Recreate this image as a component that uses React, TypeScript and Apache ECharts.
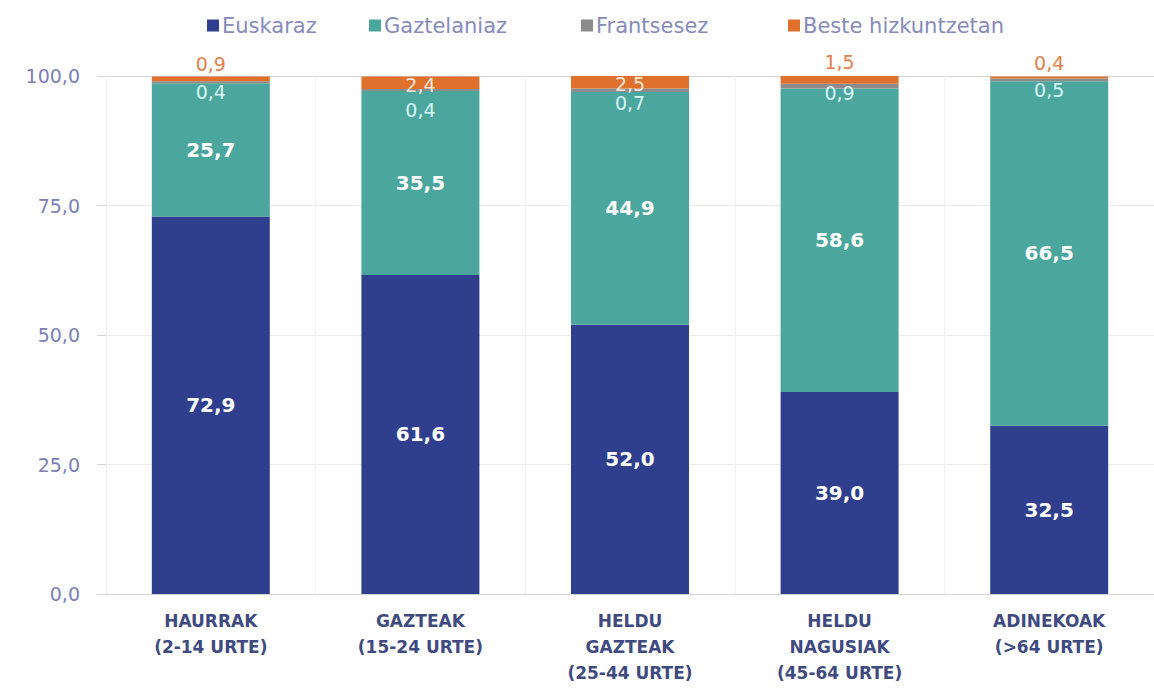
import React, { useEffect, useRef } from "react";
import * as echarts from "echarts";

const categories = [
  "HAURRAK\n(2-14 URTE)",
  "GAZTEAK\n(15-24 URTE)",
  "HELDU\nGAZTEAK\n(25-44 URTE)",
  "HELDU\nNAGUSIAK\n(45-64 URTE)",
  "ADINEKOAK\n(>64 URTE)",
];
const seriesNames = ["Euskaraz", "Gaztelaniaz", "Frantsesez", "Beste hizkuntzetan"];
const euskaraz = [72.9, 61.6, 52.0, 39.0, 32.5];
const gaztelaniaz = [25.7, 35.5, 44.9, 58.6, 66.5];
const frantsesez = [0.4, 0.4, 0.7, 0.9, 0.5];
const beste = [0.9, 2.4, 2.5, 1.5, 0.4];
const yTicks = [0, 25, 50, 75, 100];

// label placement (offset from segment top, px) — styling only
const frOffsets = [11, 21, 15, 9, 11];
const besteOffsets = [-13, 8.5, 7.5, -14, -13.5];
const besteInside = [false, true, true, false, false];

const colors = ["#2f3f8e", "#4ba79d", "#8c8c8c", "#e0712c"];
const fmt = (v: number) => v.toFixed(1).replace(".", ",");

export default function App() {
  const ref = useRef<HTMLDivElement>(null);
  useEffect(() => {
    document.body.style.margin = "0";
    const chart = echarts.init(ref.current!, null, { renderer: "svg" });
    const legendLefts = [202, 364, 576, 783];
    const option: any = {
      animation: false,
      backgroundColor: "#ffffff",
      legend: seriesNames.map((n, i) => ({
        data: [n],
        left: legendLefts[i],
        top: 10,
        itemWidth: 12,
        itemHeight: 12,
        icon: "rect",
        textStyle: {
          color: "#868bbb",
          fontSize: 21,
          fontFamily: "DejaVu Sans",
          padding: [0, 0, 0, -2],
        },
      })),
      grid: { left: 106, right: -2, top: 76, bottom: 102, containLabel: false },
      xAxis: {
        type: "category",
        data: categories,
        axisLine: { show: true, lineStyle: { color: "#d4d4d4" } },
        axisTick: { show: false },
        splitLine: { show: true, lineStyle: { color: "#f1f1f1" } },
        axisLabel: {
          interval: 0,
          margin: 14,
          color: "#3f4b80",
          fontWeight: "bold",
          fontSize: 17,
          fontFamily: "DejaVu Sans",
          lineHeight: 26,
          verticalAlign: "top",
        },
      },
      yAxis: {
        type: "value",
        min: 0,
        max: 100,
        interval: 25,
        axisLine: { show: false },
        axisTick: { show: true, length: 9, lineStyle: { color: "#d4d4d4" } },
        splitLine: {
          show: true,
          lineStyle: { color: ["#d4d4d4", "#ececec", "#ececec", "#ececec", "#d4d4d4"] },
        },
        axisLabel: {
          margin: 26,
          color: "#7b80b5",
          fontSize: 19,
          fontFamily: "DejaVu Sans",
          formatter: (v: number) => (yTicks.includes(v) ? fmt(v) : ""),
        },
      },
      series: [
        {
          name: seriesNames[0],
          type: "bar",
          stack: "s",
          barWidth: 118,
          itemStyle: { color: colors[0] },
          data: euskaraz,
          label: {
            show: true,
            position: "inside",
            color: "#ffffff",
            fontWeight: "bold",
            fontSize: 20,
            fontFamily: "DejaVu Sans",
            formatter: (p: any) => fmt(p.value),
          },
        },
        {
          name: seriesNames[1],
          type: "bar",
          stack: "s",
          itemStyle: { color: colors[1] },
          data: gaztelaniaz,
          label: {
            show: true,
            position: "inside",
            color: "#ffffff",
            fontWeight: "bold",
            fontSize: 20,
            fontFamily: "DejaVu Sans",
            formatter: (p: any) => fmt(p.value),
          },
        },
        {
          name: seriesNames[2],
          type: "bar",
          stack: "s",
          itemStyle: { color: colors[2] },
          data: frantsesez.map((v, i) => ({
            value: v,
            label: {
              show: true,
              position: ["50%", frOffsets[i]],
              align: "center",
              verticalAlign: "middle",
              color: "#d8f6f6",
              fontSize: 19,
              fontFamily: "DejaVu Sans",
              formatter: (p: any) => fmt(p.value),
            },
          })),
        },
        {
          name: seriesNames[3],
          type: "bar",
          stack: "s",
          itemStyle: { color: colors[3] },
          data: beste.map((v, i) => ({
            value: v,
            label: {
              show: true,
              position: ["50%", besteOffsets[i]],
              align: "center",
              verticalAlign: "middle",
              color: besteInside[i] ? "#fbe6d8" : "#e0814c",
              fontSize: 19,
              fontFamily: "DejaVu Sans",
              formatter: (p: any) => fmt(p.value),
            },
          })),
        },
      ],
    };
    chart.setOption(option);
    return () => chart.dispose();
  }, []);
  return (
    <div
      ref={ref}
      style={{ position: "fixed", left: 0, top: 0, width: 1154, height: 696 }}
    />
  );
}
